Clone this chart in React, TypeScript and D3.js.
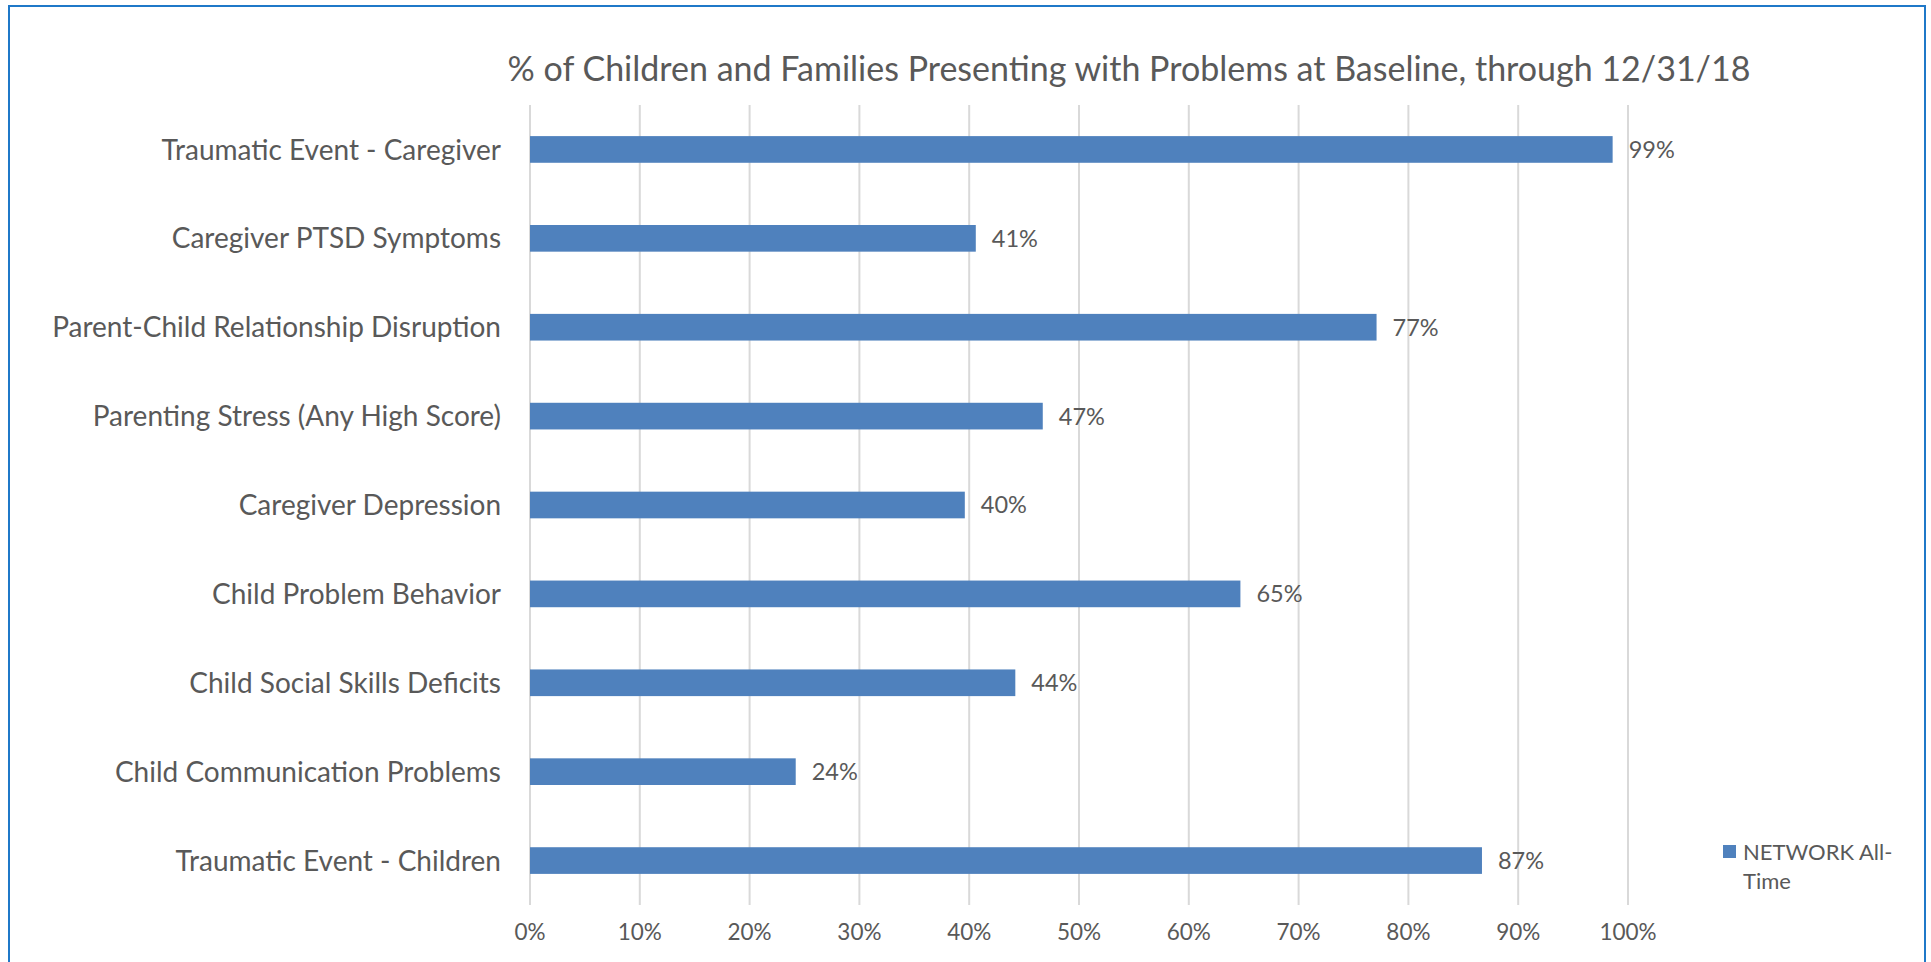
import React from "react";
import * as d3 from "d3";

const title =
  "% of Children and Families Presenting with Problems at Baseline, through 12/31/18";

const categories = [
  "Traumatic Event - Caregiver",
  "Caregiver PTSD Symptoms",
  "Parent-Child Relationship Disruption",
  "Parenting Stress (Any High Score)",
  "Caregiver Depression",
  "Child Problem Behavior",
  "Child Social Skills Deficits",
  "Child Communication Problems",
  "Traumatic Event - Children",
];

// percent of families, NETWORK All-Time
const values = [98.6, 40.6, 77.1, 46.7, 39.6, 64.7, 44.2, 24.2, 86.7];

const tickValues = [0, 10, 20, 30, 40, 50, 60, 70, 80, 90, 100];

const seriesName = ["NETWORK All-", "Time"];

const W = 1931;
const H = 962;
const FONT = "Lato, 'Open Sans', sans-serif";
const TEXT = "#595959";
const BAR = "#4F81BD";
const GRID = "#D9D9D9";

export default function App() {
  const x = d3.scaleLinear().domain([0, 100]).range([530, 1628]);
  const y = d3
    .scaleBand<string>()
    .domain(categories)
    .range([105, 905])
    .paddingInner(0.7)
    .paddingOuter(0.35);

  const pct = (v: number) => d3.format(".0f")(v) + "%";

  return (
    <svg
      width={W}
      height={H}
      style={{ position: "absolute", left: 0, top: 0, display: "block", background: "#fff" }}
      fontFamily={FONT}
    >
      <rect x={0} y={0} width={W} height={H} fill="#fff" />
      {/* outer frame */}
      <rect x={9} y={6} width={1916} height={1000} fill="none" stroke="#1F78C8" strokeWidth={2} />

      <text x={1129} y={81} textAnchor="middle" fontSize={34} fill={TEXT}>
        {title}
      </text>

      {/* vertical gridlines */}
      {tickValues.map((t) => (
        <line
          key={"g" + t}
          x1={x(t)}
          x2={x(t)}
          y1={105}
          y2={905}
          stroke={GRID}
          strokeWidth={2}
        />
      ))}

      {/* x tick labels */}
      {tickValues.map((t) => (
        <text
          key={"t" + t}
          x={x(t)}
          y={940}
          textAnchor="middle"
          fontSize={22.5}
          fill={TEXT}
        >
          {t + "%"}
        </text>
      ))}

      {/* bars */}
      {categories.map((c, i) => (
        <rect
          key={"b" + c}
          x={x(0)}
          y={y(c)!}
          width={x(values[i]) - x(0)}
          height={y.bandwidth()}
          fill={BAR}
        />
      ))}

      {/* data labels */}
      {categories.map((c, i) => (
        <text
          key={"l" + c}
          x={x(values[i]) + 16}
          y={y(c)! + y.bandwidth() / 2}
          dy="0.36em"
          fontSize={23.5}
          fill={TEXT}
        >
          {pct(values[i])}
        </text>
      ))}

      {/* category labels */}
      {categories.map((c) => (
        <text
          key={"c" + c}
          x={501}
          y={y(c)! + y.bandwidth() / 2}
          dy="0.36em"
          textAnchor="end"
          fontSize={28}
          fill={TEXT}
        >
          {c}
        </text>
      ))}

      {/* legend */}
      <rect x={1723} y={845} width={13} height={13} fill={BAR} />
      <text x={1743} y={860} fontSize={22} fill={TEXT}>
        {seriesName[0]}
      </text>
      <text x={1743} y={889} fontSize={22} fill={TEXT}>
        {seriesName[1]}
      </text>
    </svg>
  );
}
